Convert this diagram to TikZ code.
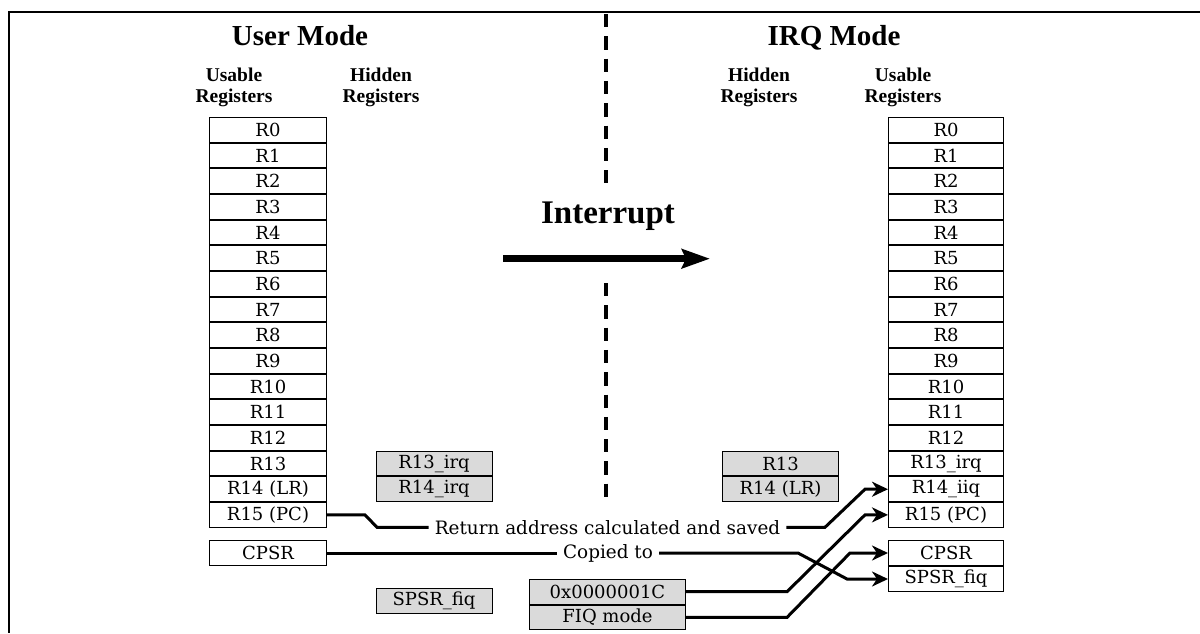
\documentclass[tikz,border=0pt]{standalone}
\usepackage{fontspec}
\setmainfont{DejaVu Serif}
\newfontfamily\headfont{Liberation Serif}
\usetikzlibrary{arrows.meta}

\definecolor{hidfill}{RGB}{218,218,218}

\begin{document}
\begin{tikzpicture}[x=1pt,y=-1pt,
  regbox/.style={draw, line width=1pt, minimum width=#1, minimum height=24.7pt,
    inner sep=0pt, font=\fontsize{18}{20}\selectfont},
  regbox/.default=117pt,
  hidbox/.style={regbox=#1, fill=hidfill},
  hidbox/.default=116pt,
  modetitle/.style={font=\headfont\bfseries\fontsize{29}{32}\selectfont, anchor=base, inner sep=0pt},
  colhead/.style={font=\headfont\bfseries\fontsize{19.5}{21}\selectfont, align=center, inner sep=0pt},
  flowlabel/.style={font=\fontsize{18.4}{20}\selectfont, inner xsep=6pt, inner ysep=0pt},
  conn/.style={line width=3pt, line join=miter},
  connarrow/.style={conn, -{Stealth[length=16pt, width=15pt, inset=5pt]}},
  divider/.style={line width=4pt, dash pattern=on 13.3pt off 9pt}
]
\useasboundingbox (0,0) rectangle (1200,633);

% outer frame (top and left edges only)
\draw[line width=2pt] (1200,12) -- (9,12) -- (9,633);

% mode titles
\node[modetitle] (tuser) at (300,45) {User Mode};
\node[modetitle] (tirq) at (834,45) {IRQ Mode};

% column headings
\node[colhead] (hUL) at (234,87) {Usable\\Registers};
\node[colhead] (hHL) at (381,87) {Hidden\\Registers};
\node[colhead] (hHR) at (759,87) {Hidden\\Registers};
\node[colhead] (hUR) at (903,87) {Usable\\Registers};

% user mode usable registers
\foreach \t [count=\i from 0] in {R0,R1,R2,R3,R4,R5,R6,R7,R8,R9,R10,R11,R12,R13,R14 (LR),R15 (PC)}
  \node[regbox] (uL\i) at (268,{117+25.67*(\i+0.5)}) {\t};

% irq mode usable registers
\foreach \t [count=\i from 0] in {R0,R1,R2,R3,R4,R5,R6,R7,R8,R9,R10,R11,R12,R13\_irq,R14\_iiq,R15 (PC)}
  \node[regbox=115pt] (uR\i) at (946,{117+25.67*(\i+0.5)}) {\t};

% hidden banked registers
\node[hidbox] (hL13) at (434,{117+25.67*13.5}) {R13\_irq};
\node[hidbox] (hL14) at (434,{117+25.67*14.5}) {R14\_irq};
\node[hidbox] (hR13) at (780.5,{117+25.67*13.5}) {R13};
\node[hidbox] (hR14) at (780.5,{117+25.67*14.5}) {R14 (LR)};

% status registers
\node[regbox] (cpsrL) at (268,553) {CPSR};
\node[hidbox] (spsrL) at (434,600.7) {SPSR\_fiq};
\node[regbox=115pt] (cpsrR) at (946,553) {CPSR};
\node[regbox=115pt] (spsrR) at (946,579) {SPSR\_fiq};

% values loaded on entry
\node[hidbox=156pt] (vaddr) at (607.5,591.7) {0x0000001C};
\node[hidbox=156pt] (vmode) at (607.5,617.4) {FIQ mode};

% dashed divider between the two modes
\draw[divider] (606,14) -- (606,184);
\draw[divider] (606,283) -- (606,498);

% interrupt arrow
\node[font=\headfont\bfseries\fontsize{33}{36}\selectfont, anchor=base, inner sep=0pt] (intr) at (608,223.3) {Interrupt};
\coordinate (ia) at (503,258.7);
\coordinate (ib) at (710,258.7);
\draw[line width=6.5pt, -{Stealth[length=28pt, width=19pt, inset=4pt]}] (ia) -- (ib);

% flow labels
\node[flowlabel] (lret) at (607.5,527.3) {Return address calculated and saved};
\node[flowlabel] (lcpy) at (608,553) {Copied to};

% return address into LR
\draw[conn] (uL15.east) -- (365,0 |- uL15.east) -- (377,0 |- lret.west) -- (lret.west);
\draw[connarrow] (lret.east) -- (825,0 |- lret.east) -- (865,0 |- uR14.west) -- (uR14.west);

% CPSR copied to SPSR
\draw[conn] (cpsrL.east) -- (lcpy.west);
\draw[connarrow] (lcpy.east) -- (798,0 |- lcpy.east) -- (847,0 |- spsrR.west) -- (spsrR.west);

% vector address into PC
\draw[connarrow] (vaddr.east) -- (787,0 |- vaddr.east) -- (865,0 |- uR15.west) -- (uR15.west);

% new mode into CPSR
\draw[connarrow] (vmode.east) -- (787,0 |- vmode.east) -- (850,0 |- cpsrR.west) -- (cpsrR.west);
\end{tikzpicture}
\end{document}
